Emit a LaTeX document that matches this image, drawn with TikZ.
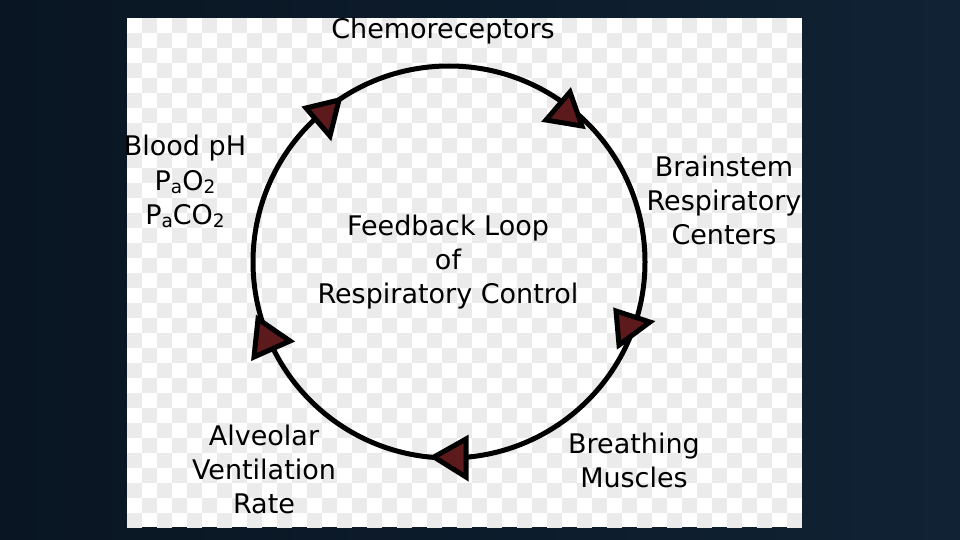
\documentclass[tikz,border=0pt]{standalone}
\usepackage{fontspec}
\setmainfont{DejaVu Sans}
\definecolor{bgL}{RGB}{9,21,34}
\definecolor{bgR}{RGB}{16,34,52}
\definecolor{chk}{RGB}{235,235,235}
\definecolor{tri}{RGB}{92,26,28}
\newcommand\lowsub[1]{\raisebox{-3pt}{\fontsize{18.5}{18.5}\selectfont #1}}
\begin{document}
\begin{tikzpicture}[x=1pt,y=-1pt,
  lbl/.style={inner sep=0pt, align=center, font=\fontsize{27}{34}\selectfont, text=black},
  loopline/.style={line width=5pt, draw=black},
  arrtri/.style={fill=tri, draw=black, line width=5pt, line join=miter}]
\useasboundingbox (0,0) rectangle (960,540);
\shade[left color=bgL, right color=bgR] (0,0) rectangle (960,540);
% panel with checkerboard
\fill[white] (127,18) rectangle (802,527);
\begin{scope}
\clip (127,18) rectangle (802,527);
\foreach \i in {0,...,44}{
  \foreach \j in {0,...,33}{
    \pgfmathtruncatemacro\k{mod(\i+\j,2)}
    \ifnum\k=1 \fill[chk] ({127+15*\i},{18+15*\j}) rectangle ++(15,15);\fi
  }
}
\end{scope}
% loop
\coordinate (c) at (449,262);
\draw[loopline] (c) circle (196);
% arrowheads
\draw[arrtri] (306,108) -- (339,100) -- (330,136) -- cycle;
\draw[arrtri] (546,120) -- (570,92) -- (582,126) -- cycle;
\draw[arrtri] (616,311) -- (650,322) -- (619,345) -- cycle;
\draw[arrtri] (434,457) -- (466,439) -- (466,477) -- cycle;
\draw[arrtri] (258,319) -- (290,341) -- (254,357) -- cycle;
% labels
\node[lbl, anchor=base] (chemo) at (443,39) {Chemoreceptors};
\node[lbl, anchor=north] (brain) at (724,156) {Brainstem\\Respiratory\\Centers};
\node[lbl, anchor=north] (center) at (448,215) {Feedback Loop\\of\\Respiratory Control};
\node[lbl, anchor=north] (muscle) at (634,433) {Breathing\\Muscles};
\node[lbl, anchor=north] (alv) at (264,425) {Alveolar\\Ventilation\\Rate};
\node[lbl, anchor=north, font=\fontsize{27}{34.5}\selectfont] (blood) at (185,135) {Blood pH\\P\lowsub{a}O\lowsub{2}\\P\lowsub{a}CO\lowsub{2}};
\end{tikzpicture}
\end{document}
